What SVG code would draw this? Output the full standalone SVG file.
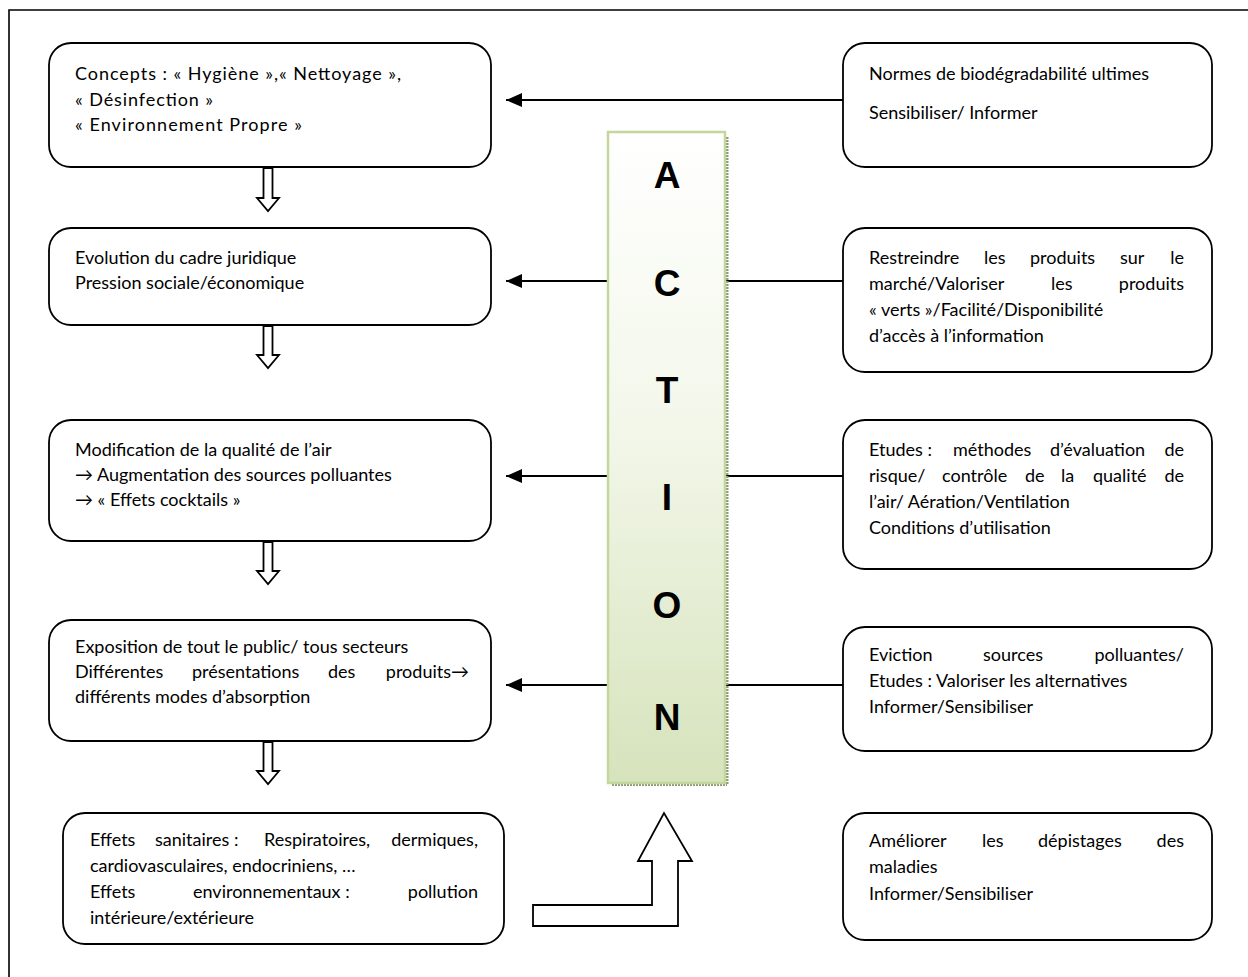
<svg xmlns="http://www.w3.org/2000/svg" width="1248" height="977" viewBox="0 0 1248 977">
<defs>
<style>
.box{fill:#fff;stroke:#000;stroke-width:1.8}
.t{font-family:Lato,"Open Sans",sans-serif;font-size:18px;fill:#000}
.big{font-family:"Liberation Sans",Arial,sans-serif;font-size:37px;font-weight:bold;fill:#000;text-anchor:middle}
.con{stroke:#000;stroke-width:1.8;fill:none}
.hol{fill:#fff;stroke:#000;stroke-width:1.8;stroke-linejoin:miter}
.e{text-anchor:end}
</style>
<linearGradient id="g" x1="0" y1="0" x2="0" y2="1">
<stop offset="0" stop-color="#ffffff"/>
<stop offset="0.45" stop-color="#f3f7ea"/>
<stop offset="1" stop-color="#d6e3bc"/>
</linearGradient>
<marker id="ah" markerWidth="16" markerHeight="14" refX="16" refY="7" orient="auto" markerUnits="userSpaceOnUse">
<path d="M0,0 L16,7 L0,14 Z" fill="#000"/>
</marker>
</defs>
<rect width="1248" height="977" fill="#fff"/>
<path d="M9,977 V10 H1248" fill="none" stroke="#000" stroke-width="1.6"/>

<g id="connectors">
<line class="con" x1="843" y1="100" x2="506" y2="100" marker-end="url(#ah)"/>
<line class="con" x1="843" y1="281" x2="506" y2="281" marker-end="url(#ah)"/>
<line class="con" x1="843" y1="476" x2="506" y2="476" marker-end="url(#ah)"/>
<line class="con" x1="843" y1="685" x2="506" y2="685" marker-end="url(#ah)"/>
<polygon class="hol" points="263.5,168 272.5,168 272.5,198 279,198 268,211 257,198 263.5,198"/>
<polygon class="hol" points="263.5,326 272.5,326 272.5,355 279,355 268,368 257,355 263.5,355"/>
<polygon class="hol" points="263.5,542 272.5,542 272.5,571 279,571 268,584 257,571 263.5,571"/>
<polygon class="hol" points="263.5,742 272.5,742 272.5,771 279,771 268,784 257,771 263.5,771"/>
<polygon class="hol" points="533,905 652,905 652,861 638,861 664,813 692,861 678,861 678,926 533,926"/>
</g>

<g id="action">
<line x1="727" y1="137" x2="727" y2="785" stroke="#8d9a78" stroke-width="3" stroke-dasharray="2 1"/>
<line x1="612" y1="784.5" x2="727" y2="784.5" stroke="#8d9a78" stroke-width="3" stroke-dasharray="2 1"/>
<rect x="608" y="132" width="117" height="651" fill="url(#g)" stroke="#c3d69b" stroke-width="2.5"/>
<text class="big" x="667" y="188">A</text>
<text class="big" x="667" y="296">C</text>
<text class="big" x="667" y="403">T</text>
<text class="big" x="667" y="510">I</text>
<text class="big" x="667" y="618">O</text>
<text class="big" x="667" y="730">N</text>
</g>

<g id="n1">
<rect class="box" x="49" y="43" width="442" height="124" rx="22"/>
<text class="t" x="75" y="80" textLength="326" lengthAdjust="spacing">Concepts : « Hygiène »,« Nettoyage »,</text>
<text class="t" x="75" y="106" textLength="138" lengthAdjust="spacing">« Désinfection »</text>
<text class="t" x="75" y="131" textLength="227" lengthAdjust="spacing">« Environnement Propre »</text>
</g>
<g id="n2">
<rect class="box" x="49" y="228" width="442" height="97" rx="22"/>
<text class="t" x="75" y="264">Evolution du cadre juridique</text>
<text class="t" x="75" y="289">Pression sociale/économique</text>
</g>
<g id="n3">
<rect class="box" x="49" y="420" width="442" height="121" rx="22"/>
<text class="t" x="75" y="456">Modification de la qualité de l’air</text>
<text class="t" x="75" y="481">→ Augmentation des sources polluantes</text>
<text class="t" x="75" y="506">→ « Effets cocktails »</text>
</g>
<g id="n4">
<rect class="box" x="49" y="620" width="442" height="121" rx="22"/>
<text class="t" x="75" y="653">Exposition de tout le public/ tous secteurs</text>
<text class="t" y="678"><tspan x="75">Différentes</tspan><tspan x="192">présentations</tspan><tspan x="328">des</tspan><tspan class="e" x="469">produits→</tspan></text>
<text class="t" x="75" y="703">différents modes d’absorption</text>
</g>
<g id="n5">
<rect class="box" x="63" y="813" width="441" height="131" rx="22"/>
<text class="t" y="846"><tspan x="90">Effets</tspan><tspan x="155">sanitaires :</tspan><tspan x="264">Respiratoires,</tspan><tspan class="e" x="478">dermiques,</tspan></text>
<text class="t" x="90" y="872">cardiovasculaires, endocriniens, …</text>
<text class="t" y="898"><tspan x="90">Effets</tspan><tspan x="193">environnementaux :</tspan><tspan class="e" x="478">pollution</tspan></text>
<text class="t" x="90" y="924">intérieure/extérieure</text>
</g>

<g id="r1">
<rect class="box" x="843" y="43" width="369" height="124" rx="22"/>
<text class="t" x="869" y="80">Normes de biodégradabilité ultimes</text>
<text class="t" x="869" y="119">Sensibiliser/ Informer</text>
</g>
<g id="r2">
<rect class="box" x="843" y="228" width="369" height="144" rx="22"/>
<text class="t" y="264"><tspan x="869">Restreindre</tspan><tspan x="984">les</tspan><tspan x="1030">produits</tspan><tspan x="1120">sur</tspan><tspan class="e" x="1184">le</tspan></text>
<text class="t" y="290"><tspan x="869">marché/Valoriser</tspan><tspan x="1051">les</tspan><tspan class="e" x="1184">produits</tspan></text>
<text class="t" x="869" y="316">« verts »/Facilité/Disponibilité</text>
<text class="t" x="869" y="342">d’accès à l’information</text>
</g>
<g id="r3">
<rect class="box" x="843" y="420" width="369" height="149" rx="22"/>
<text class="t" y="456"><tspan x="869">Etudes :</tspan><tspan x="953">méthodes</tspan><tspan x="1050">d’évaluation</tspan><tspan class="e" x="1184">de</tspan></text>
<text class="t" y="482"><tspan x="869">risque/</tspan><tspan x="942">contrôle</tspan><tspan x="1025">de</tspan><tspan x="1061">la</tspan><tspan x="1093">qualité</tspan><tspan class="e" x="1184">de</tspan></text>
<text class="t" x="869" y="508">l’air/ Aération/Ventilation</text>
<text class="t" x="869" y="534">Conditions d’utilisation</text>
</g>
<g id="r4">
<rect class="box" x="843" y="627" width="369" height="124" rx="22"/>
<text class="t" y="661"><tspan x="869">Eviction</tspan><tspan x="983">sources</tspan><tspan class="e" x="1184">polluantes/</tspan></text>
<text class="t" x="869" y="687">Etudes : Valoriser les alternatives</text>
<text class="t" x="869" y="713">Informer/Sensibiliser</text>
</g>
<g id="r5">
<rect class="box" x="843" y="813" width="369" height="127" rx="22"/>
<text class="t" y="847"><tspan x="869">Améliorer</tspan><tspan x="982">les</tspan><tspan x="1038">dépistages</tspan><tspan class="e" x="1184">des</tspan></text>
<text class="t" x="869" y="873">maladies</text>
<text class="t" x="869" y="900">Informer/Sensibiliser</text>
</g>
</svg>
